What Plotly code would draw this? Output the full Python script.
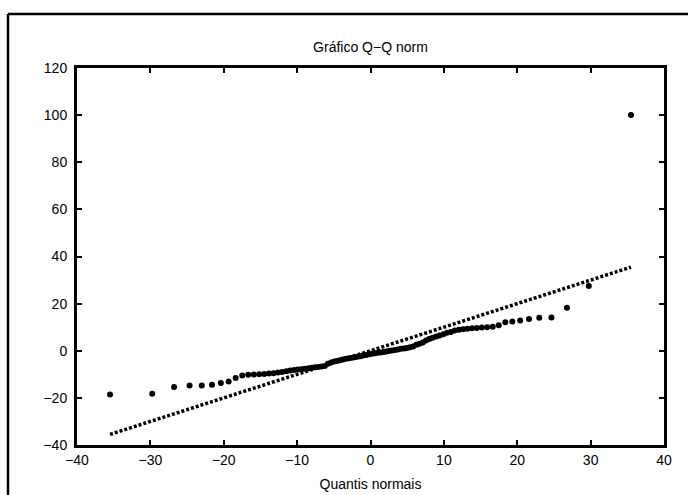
import plotly.graph_objects as go

# Theoretical normal quantiles (scaled)
quantis = [-35.50, -29.75, -26.77, -24.66, -23.00, -21.60, -20.40, -19.33, -18.37, -17.48,
           -16.66, -15.90, -15.17, -14.48, -13.84, -13.21, -12.62, -12.05, -11.49, -10.96,
           -10.43, -9.93, -9.42, -8.95, -8.47, -8.01, -7.56, -7.12, -6.67, -6.24,
           -5.80, -5.38, -4.96, -4.56, -4.15, -3.75, -3.34, -2.94, -2.54, -2.15,
           -1.76, -1.37, -0.98, -0.59, -0.20,
           0.20, 0.59, 0.98, 1.37, 1.76,
           2.15, 2.54, 2.94, 3.34, 3.75, 4.15, 4.56, 4.96, 5.38, 5.80,
           6.24, 6.67, 7.12, 7.56, 8.01, 8.47, 8.95, 9.42, 9.93, 10.43,
           10.96, 11.49, 12.05, 12.62, 13.21, 13.84, 14.48, 15.17, 15.90, 16.66,
           17.48, 18.37, 19.33, 20.40, 21.60, 23.00, 24.66, 26.77, 29.75, 35.50]

# Sorted sample values
amostra = [-18.6, -18.2, -15.4, -14.7, -14.7, -14.4, -13.7, -13.0, -11.6, -10.5,
           -10.2, -10.1, -10.0, -9.9, -9.7, -9.5, -9.2, -9.0, -8.7, -8.4,
           -8.2, -8.0, -7.8, -7.6, -7.4, -7.2, -7.0, -6.9, -6.7, -6.5,
           -5.5, -5.0, -4.6, -4.3, -4.0, -3.7, -3.4, -3.2, -3.0, -2.8,
           -2.5, -2.3, -2.0, -1.8, -1.5,
           -1.3, -1.1, -0.9, -0.7, -0.5,
           -0.3, -0.1, 0.1, 0.3, 0.5, 0.8, 1.0, 1.2, 1.5, 1.8,
           2.5, 3.0, 3.5, 4.3, 5.0, 5.5, 6.0, 6.5, 7.0, 7.6,
           8.0, 8.6, 8.9, 9.1, 9.3, 9.5, 9.7, 9.9, 10.0, 10.2,
           10.8, 12.1, 12.4, 12.8, 13.5, 14.0, 14.1, 18.3, 27.5, 100.0]

linha_x = [-35.5, 35.5]
linha_y = [-35.5, 35.5]

x_ticks = [-40, -30, -20, -10, 0, 10, 20, 30, 40]
y_ticks = [-40, -20, 0, 20, 40, 60, 80, 100, 120]

FONT = "Liberation Sans, Arial, sans-serif"
FS = 14

fig = go.Figure()
fig.add_trace(go.Scatter(x=linha_x, y=linha_y, mode="lines",
                         line=dict(color="black", width=3.5, dash="3px,2px"),
                         showlegend=False, hoverinfo="skip"))
fig.add_trace(go.Scatter(x=quantis, y=amostra, mode="markers",
                         marker=dict(color="black", size=6, symbol="circle"),
                         showlegend=False))

L, R, T, B = 77, 24, 68, 50
W, H = 688, 495
pw, ph = W - L - R, H - T - B

axis_common = dict(showline=True, linecolor="black", linewidth=3, mirror="ticks",
                   ticks="inside", ticklen=5, tickwidth=2, tickcolor="black",
                   showgrid=False, zeroline=False, automargin=False,
                   tickfont=dict(family=FONT, size=FS, color="black"))

fx0 = (8 - L) / pw
fx1 = (W - L) / pw
fy1 = 1 + (T - 14) / ph
fy0 = -B / ph
fig.update_layout(
    width=W, height=H,
    margin=dict(l=L, r=R, t=T, b=B),
    paper_bgcolor="white", plot_bgcolor="white",
    font=dict(family=FONT, size=FS, color="black"),
    title=dict(text="Gráfico Q\u2212Q norm", x=(L + pw / 2) / W, xanchor="center",
               y=1 - 47 / H, yanchor="middle", yref="container",
               font=dict(family=FONT, size=FS, color="black")),
    xaxis=dict(range=[-40, 40], tickvals=x_ticks,
               title=dict(text="Quantis normais", standoff=13,
                          font=dict(family=FONT, size=FS, color="black")),
               **axis_common),
    yaxis=dict(range=[-40, 120], tickvals=y_ticks, ticklabelstandoff=4, **axis_common),
    shapes=[
        dict(type="line", xref="paper", yref="paper", x0=fx0, x1=fx1, y0=fy1, y1=fy1,
             line=dict(color="black", width=2.5), layer="below"),
        dict(type="line", xref="paper", yref="paper", x0=fx0, x1=fx0, y0=fy1, y1=fy0,
             line=dict(color="black", width=2.5), layer="below"),
    ],
)

fig.write_html("out.html")
